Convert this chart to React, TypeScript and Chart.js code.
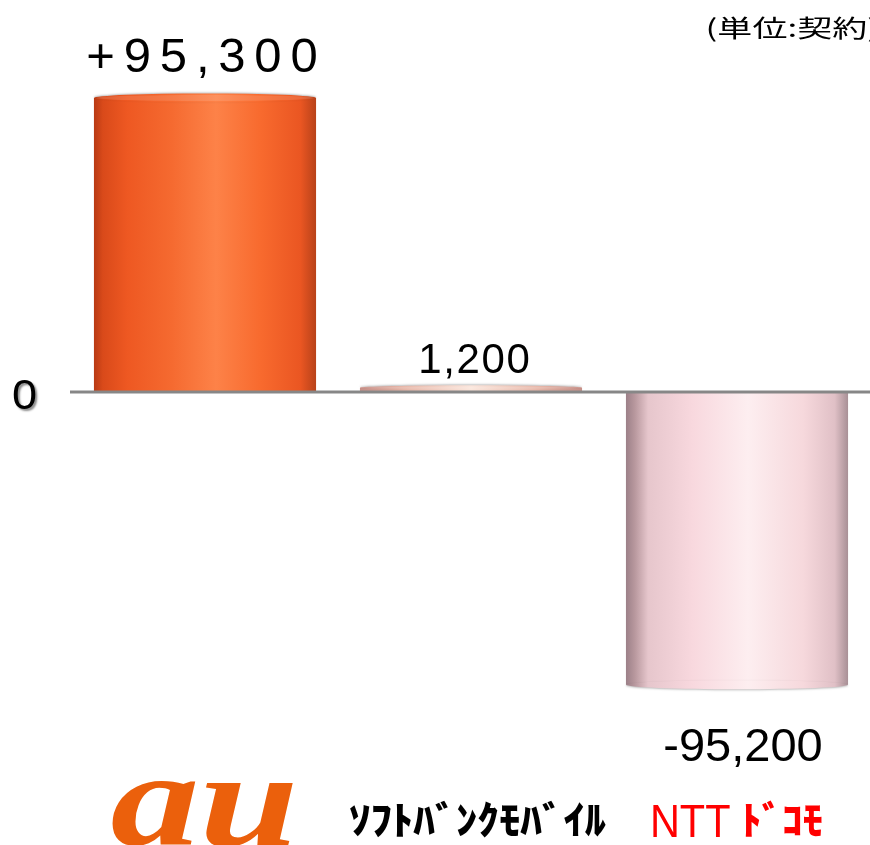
import { useEffect, useRef } from "react";
import { Chart, registerables } from "chart.js";

Chart.register(...registerables);

// ---- data ----
const categories = ["au", "ｿﾌﾄﾊﾞﾝｸﾓﾊﾞｲﾙ", "NTTﾄﾞｺﾓ"];
const netAdds = [95300, 1200, -95200];
const valueLabels = ["+95,300", "1,200", "-95,200"];
const zeroTickLabel = "0";
const unitLabel = "(単位:契約)";
const yMin = -100000;
const yMax = 100000;

// ---- styles ----
const BAR_PCT = 0.835;
const barStops: [number, string][][] = [
  [
    [0, "#b83a14"],
    [0.04, "#d94a1a"],
    [0.15, "#ee5822"],
    [0.35, "#f56a30"],
    [0.55, "#fd8248"],
    [0.75, "#f86a2e"],
    [0.93, "#ea5622"],
    [1, "#b8421a"],
  ],
  [
    [0, "#c89088"],
    [0.2, "#e8b8aa"],
    [0.5, "#fbe6dc"],
    [0.8, "#e8b8aa"],
    [1, "#c89088"],
  ],
  [
    [0, "#9c8088"],
    [0.04, "#b8989e"],
    [0.1, "#e6c6cc"],
    [0.3, "#f8d8de"],
    [0.55, "#fdeef0"],
    [0.8, "#f6d8dc"],
    [0.94, "#e0c0c6"],
    [1, "#a89096"],
  ],
];
const fallbackColors = ["#f26522", "#ecc0b4", "#f6d8dc"];
const labelStyle = [
  { font: "49px 'Liberation Sans', Arial, sans-serif", spacing: 8.8, dx: -3, gap: 26 },
  { font: "42px 'Liberation Sans', Arial, sans-serif", spacing: 1.6, dx: 3, gap: 15 },
  { font: "47px 'Liberation Sans', Arial, sans-serif", spacing: 0, dx: 6, gap: 43 },
];

function fitText(
  c: CanvasRenderingContext2D,
  text: string,
  font: string,
  color: string,
  x0: number,
  y0: number,
  x1: number,
  y1: number
) {
  c.save();
  c.font = font;
  c.textAlign = "left";
  c.textBaseline = "alphabetic";
  const m = c.measureText(text);
  const w = m.actualBoundingBoxLeft + m.actualBoundingBoxRight;
  const h = m.actualBoundingBoxAscent + m.actualBoundingBoxDescent;
  c.translate(x0, y0);
  c.scale((x1 - x0) / w, (y1 - y0) / h);
  c.fillStyle = color;
  c.fillText(text, m.actualBoundingBoxLeft, m.actualBoundingBoxAscent);
  c.restore();
}

function spacedText(
  c: CanvasRenderingContext2D,
  text: string,
  font: string,
  spacing: number,
  cx: number,
  baseline: number,
  color: string
) {
  c.save();
  c.font = font;
  c.textAlign = "left";
  c.textBaseline = "alphabetic";
  c.fillStyle = color;
  const chars = Array.from(text);
  const widths = chars.map((ch) => c.measureText(ch).width);
  const total = widths.reduce((a, b) => a + b, 0) + spacing * (chars.length - 1);
  let x = cx - total / 2;
  chars.forEach((ch, i) => {
    c.fillText(ch, x, baseline);
    x += widths[i] + spacing;
  });
  c.restore();
}

const decorPlugin = {
  id: "decor",
  afterDatasetsDraw(chart: any) {
    const c: CanvasRenderingContext2D = chart.ctx;
    const y = chart.scales.y;
    const zeroY = y.getPixelForValue(0);
    const meta = chart.getDatasetMeta(0);

    // end caps (cylinder look)
    meta.data.forEach((el: any, i: number) => {
      const { x, width } = el;
      const endY = el.y;
      const ry = i === 1 ? 2.5 : 4.5;
      const g = c.createLinearGradient(x - width / 2, 0, x + width / 2, 0);
      barStops[i].forEach(([o, col]) => g.addColorStop(o, col));
      c.save();
      c.beginPath();
      c.ellipse(x, endY, width / 2, ry, 0, 0, Math.PI * 2);
      c.fillStyle = g;
      c.shadowColor = "rgba(0,0,0,0.25)";
      c.shadowBlur = 2;
      c.shadowOffsetY = netAdds[i] >= 0 ? -1 : 1;
      c.fill();
      c.restore();
      if (netAdds[i] >= 0) {
        c.save();
        c.beginPath();
        c.ellipse(x, endY, width / 2 - 2, ry - 1.5, 0, 0, Math.PI * 2);
        c.fillStyle = "rgba(255,255,255,0.12)";
        c.fill();
        c.restore();
      }
    });

    // zero line
    c.save();
    c.strokeStyle = "#878787";
    c.lineWidth = 3;
    c.beginPath();
    c.moveTo(70, zeroY + 0.5);
    c.lineTo(chart.width, zeroY + 0.5);
    c.stroke();
    c.restore();

    // value labels
    meta.data.forEach((el: any, i: number) => {
      const st = labelStyle[i];
      const cx = el.x + st.dx;
      const baseline = netAdds[i] >= 0 ? el.y - st.gap : el.y + st.gap + 33;
      spacedText(c, valueLabels[i], st.font, st.spacing, cx, baseline, "#000");
    });

    // zero tick label with shadow
    c.save();
    c.shadowColor = "rgba(0,0,0,0.45)";
    c.shadowBlur = 2;
    c.shadowOffsetX = 2;
    c.shadowOffsetY = 2;
    fitText(c, zeroTickLabel, "42px 'Liberation Sans', Arial, sans-serif", "#000", 13, zeroY - 12.5, 35.5, zeroY + 17.5);
    c.restore();

    // unit label
    fitText(c, unitLabel, "28px 'Noto Sans CJK JP', sans-serif", "#000", 708, 15, 876, 42);

    // category labels
    const xs = chart.scales.x;
    const c0 = xs.getPixelForValue(0);
    const c1 = xs.getPixelForValue(1);
    const c2 = xs.getPixelForValue(2);
    fitText(c, categories[0], "italic bold 120px 'Liberation Serif', serif", "#eb600c", c0 - 93, 780, c0 + 88, 846);
    fitText(c, categories[1], "900 44px 'Noto Sans CJK JP', sans-serif", "#000", c1 - 121, 800, c1 + 135, 838);
    const ntt = categories[2].slice(0, 3);
    const docomo = categories[2].slice(3);
    fitText(c, ntt, "40px 'Liberation Sans', Arial, sans-serif", "#ff0000", c2 - 84, 805, c2 - 7, 837);
    fitText(c, docomo, "900 40px 'Noto Sans CJK JP', sans-serif", "#ff0000", c2 + 8, 800, c2 + 85, 837);
  },
};

export default function App() {
  const ref = useRef<HTMLCanvasElement>(null);
  useEffect(() => {
    const chart = new Chart(ref.current as HTMLCanvasElement, {
      type: "bar",
      data: {
        labels: categories,
        datasets: [
          {
            data: netAdds,
            barPercentage: BAR_PCT,
            categoryPercentage: 1,
            borderWidth: 0,
            backgroundColor: (ctx: any) => {
              const i = ctx.dataIndex ?? 0;
              const chart = ctx.chart;
              const xs = chart.scales?.x;
              if (!chart.chartArea || !xs || ctx.type !== "data") return fallbackColors[i];
              const cx = xs.getPixelForValue(i);
              const w = (xs.width / categories.length) * BAR_PCT;
              const g = chart.ctx.createLinearGradient(cx - w / 2, 0, cx + w / 2, 0);
              barStops[i].forEach(([o, col]) => g.addColorStop(o, col));
              return g;
            },
          },
        ],
      },
      options: {
        responsive: true,
        maintainAspectRatio: false,
        animation: false,
        layout: { padding: { left: 72, right: 0, top: 83.5, bottom: 145.5 } },
        plugins: { legend: { display: false }, tooltip: { enabled: false } },
        scales: {
          x: { display: false, grid: { display: false } },
          y: { display: false, min: yMin, max: yMax },
        },
      },
      plugins: [decorPlugin],
    });
    return () => chart.destroy();
  }, []);
  return (
    <div style={{ position: "fixed", left: 0, top: 0, width: 870, height: 845, background: "#fff" }}>
      <canvas ref={ref} />
    </div>
  );
}
